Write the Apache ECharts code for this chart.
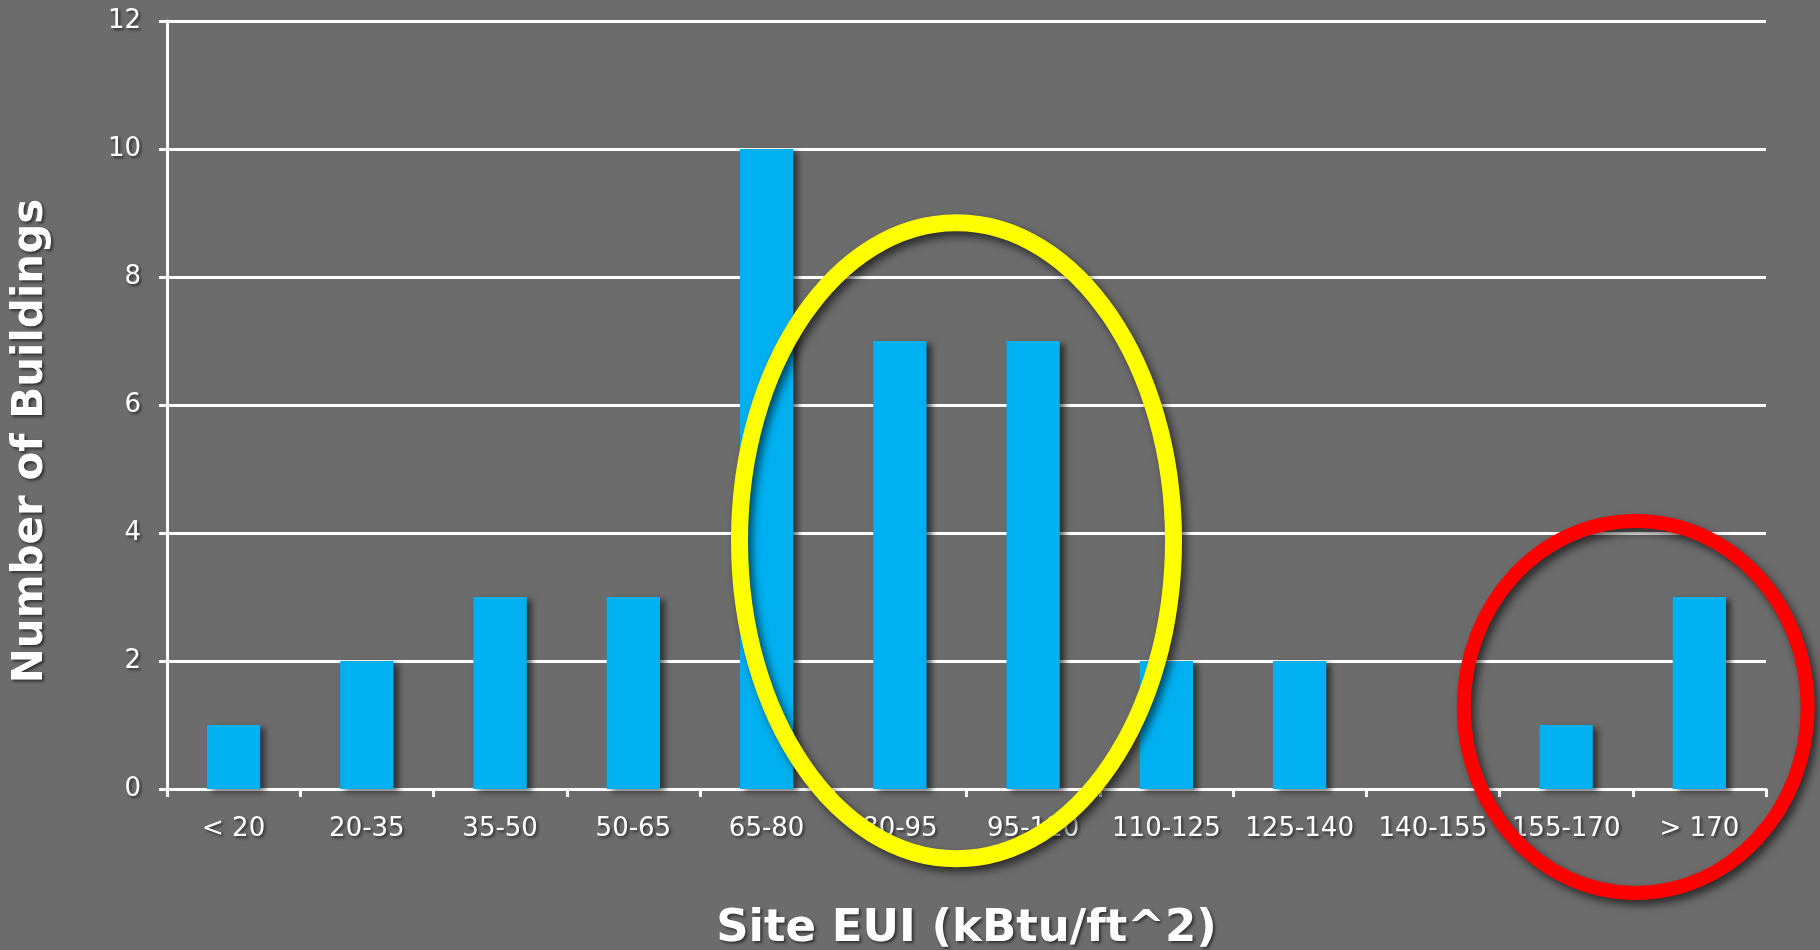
<!DOCTYPE html>
<html>
<head>
<meta charset="utf-8">
<script src="https://cdn.jsdelivr.net/npm/echarts@6/dist/echarts.min.js"></script>
<style>
  html, body { margin:0; padding:0; background:#6c6c6c; }
  #chart { width:1820px; height:950px; }
</style>
</head>
<body>
<div id="chart"></div>
<script>
// EUI bins and building counts
var categories = ['< 20', '20-35', '35-50', '50-65', '65-80', '80-95', '95-110', '110-125', '125-140', '140-155', '155-170', '> 170'];
var buildings = [1, 2, 3, 3, 10, 7, 7, 2, 2, 0, 1, 3];
var yMin = 0, yMax = 12, yStep = 2;

// highlighted groups (yellow = typical, red = outliers)
var typicalBins = ['80-95', '95-110'];
var outlierBins = ['155-170', '> 170'];

var font = 'Verdana, "DejaVu Sans", sans-serif';
var txtShadow = { textShadowColor:'rgba(0,0,0,0.55)', textShadowBlur:3, textShadowOffsetX:2, textShadowOffsetY:2 };

var chart = echarts.init(document.getElementById('chart'));
var option = {
  backgroundColor: '#6c6c6c',
  animation: false,
  grid: { left:167, right:54, top:21, bottom:161, containLabel:false, outerBoundsMode:'none' },
  xAxis: {
    type: 'category',
    data: categories,
    boundaryGap: true,
    name: 'Site EUI (kBtu/ft^2)',
    nameLocation: 'middle',
    nameGap: 118,
    nameTextStyle: Object.assign({ color:'#fff', fontSize:45, fontWeight:'bold', fontFamily:font }, txtShadow),
    axisLine: { lineStyle:{ color:'#fff', width:3 } },
    axisTick: { show:true, length:8, lineStyle:{ color:'#fff', width:3 } },
    axisLabel: Object.assign({ color:'#fff', fontSize:26, fontFamily:font, margin:27, interval:0 }, txtShadow),
    splitLine: { show:false }
  },
  yAxis: {
    type: 'value',
    min: yMin, max: yMax, interval: yStep,
    axisLine: { show:true, lineStyle:{ color:'#fff', width:3 } },
    axisTick: { show:true, length:8, lineStyle:{ color:'#fff', width:3 } },
    axisLabel: Object.assign({ color:'#fff', fontSize:26, fontFamily:font, margin:26 }, txtShadow),
    splitLine: { show:true, lineStyle:{ color:'#fff', width:3 } }
  },
  series: [{
    type: 'bar',
    data: buildings,
    barWidth: '40%',
    itemStyle: {
      color: '#00b0f0',
      shadowColor: 'rgba(0,0,0,0.55)',
      shadowBlur: 6,
      shadowOffsetX: 5,
      shadowOffsetY: 3
    },
    z: 3
  }]
};
chart.setOption(option, true);

// rings drawn around the bin groups, placed from the axis scales
function ringCenter(bins, value, dx) {
  var a = chart.convertToPixel({ xAxisIndex:0 }, bins[0]);
  var b = chart.convertToPixel({ xAxisIndex:0 }, bins[bins.length - 1]);
  var y = chart.convertToPixel({ yAxisIndex:0 }, value);
  return [(a + b) / 2 + dx, y];
}
var c1 = ringCenter(typicalBins, 3.88, -10);
var c2 = ringCenter(outlierBins, 1.28, 3);
var ringShadow = { shadowColor:'rgba(0,0,0,0.6)', shadowBlur:8, shadowOffsetX:4, shadowOffsetY:5 };
chart.setOption({
  graphic: [
    // y axis title, sits a bit below the middle of the plot like the original slide
    { type:'text', z:50, x:31, y:441, rotation:Math.PI / 2,
      style: Object.assign({ text:'Number of Buildings', fill:'#fff', font:'bold 42px ' + font,
        textAlign:'center', textVerticalAlign:'middle' }, txtShadow) },
    { type:'ellipse', z:100, shape:{ cx:c1[0], cy:c1[1], rx:217, ry:318 },
      style: Object.assign({ fill:'none', stroke:'#ffff00', lineWidth:17 }, ringShadow) },
    { type:'ellipse', z:100, shape:{ cx:c2[0], cy:c2[1], rx:172, ry:186 },
      style: Object.assign({ fill:'none', stroke:'#ff0000', lineWidth:14 }, ringShadow) }
  ]
});
</script>
</body>
</html>
